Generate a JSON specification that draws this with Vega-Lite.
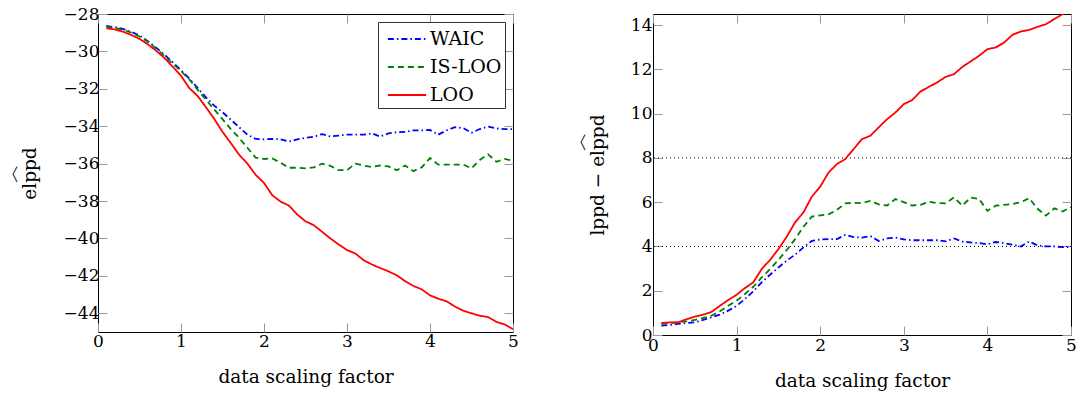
{
  "$schema": "https://vega.github.io/schema/vega-lite/v6.json",
  "padding": {"left": 1, "right": 5, "top": 4, "bottom": 2},
  "spacing": 50,
  "resolve": {"scale": {"color": "independent", "strokeDash": "independent"}},
  "datasets": {
    "left": [
      {"x":0.1,"WAIC":-28.64,"IS-LOO":-28.68,"LOO":-28.76},
      {"x":0.2,"WAIC":-28.7,"IS-LOO":-28.74,"LOO":-28.82},
      {"x":0.3,"WAIC":-28.8,"IS-LOO":-28.84,"LOO":-28.94},
      {"x":0.4,"WAIC":-28.95,"IS-LOO":-29.0,"LOO":-29.12},
      {"x":0.5,"WAIC":-29.15,"IS-LOO":-29.2,"LOO":-29.33},
      {"x":0.6,"WAIC":-29.45,"IS-LOO":-29.48,"LOO":-29.62},
      {"x":0.7,"WAIC":-29.8,"IS-LOO":-29.85,"LOO":-29.96},
      {"x":0.8,"WAIC":-30.17,"IS-LOO":-30.24,"LOO":-30.35},
      {"x":0.9,"WAIC":-30.58,"IS-LOO":-30.65,"LOO":-30.82},
      {"x":1.0,"WAIC":-31.0,"IS-LOO":-31.05,"LOO":-31.3},
      {"x":1.1,"WAIC":-31.45,"IS-LOO":-31.5,"LOO":-31.96},
      {"x":1.2,"WAIC":-31.95,"IS-LOO":-32.05,"LOO":-32.38},
      {"x":1.3,"WAIC":-32.45,"IS-LOO":-32.58,"LOO":-32.98},
      {"x":1.4,"WAIC":-32.9,"IS-LOO":-33.1,"LOO":-33.6},
      {"x":1.5,"WAIC":-33.25,"IS-LOO":-33.62,"LOO":-34.3},
      {"x":1.6,"WAIC":-33.65,"IS-LOO":-34.15,"LOO":-34.9},
      {"x":1.7,"WAIC":-34.05,"IS-LOO":-34.62,"LOO":-35.52},
      {"x":1.8,"WAIC":-34.45,"IS-LOO":-35.15,"LOO":-36.0},
      {"x":1.9,"WAIC":-34.68,"IS-LOO":-35.68,"LOO":-36.6},
      {"x":2.0,"WAIC":-34.7,"IS-LOO":-35.75,"LOO":-37.03},
      {"x":2.1,"WAIC":-34.68,"IS-LOO":-35.72,"LOO":-37.69},
      {"x":2.2,"WAIC":-34.7,"IS-LOO":-35.95,"LOO":-38.03},
      {"x":2.3,"WAIC":-34.82,"IS-LOO":-36.22,"LOO":-38.24},
      {"x":2.4,"WAIC":-34.7,"IS-LOO":-36.22,"LOO":-38.72},
      {"x":2.5,"WAIC":-34.62,"IS-LOO":-36.25,"LOO":-39.08},
      {"x":2.6,"WAIC":-34.56,"IS-LOO":-36.2,"LOO":-39.29},
      {"x":2.7,"WAIC":-34.42,"IS-LOO":-36.0,"LOO":-39.64},
      {"x":2.8,"WAIC":-34.55,"IS-LOO":-36.12,"LOO":-40.0},
      {"x":2.9,"WAIC":-34.5,"IS-LOO":-36.35,"LOO":-40.32},
      {"x":3.0,"WAIC":-34.45,"IS-LOO":-36.35,"LOO":-40.62},
      {"x":3.1,"WAIC":-34.45,"IS-LOO":-36.0,"LOO":-40.8},
      {"x":3.2,"WAIC":-34.45,"IS-LOO":-36.1,"LOO":-41.16},
      {"x":3.3,"WAIC":-34.38,"IS-LOO":-36.18,"LOO":-41.39},
      {"x":3.4,"WAIC":-34.55,"IS-LOO":-36.1,"LOO":-41.58},
      {"x":3.5,"WAIC":-34.38,"IS-LOO":-36.15,"LOO":-41.76},
      {"x":3.6,"WAIC":-34.32,"IS-LOO":-36.35,"LOO":-41.97},
      {"x":3.7,"WAIC":-34.3,"IS-LOO":-36.1,"LOO":-42.28},
      {"x":3.8,"WAIC":-34.22,"IS-LOO":-36.4,"LOO":-42.54},
      {"x":3.9,"WAIC":-34.22,"IS-LOO":-36.2,"LOO":-42.72},
      {"x":4.0,"WAIC":-34.2,"IS-LOO":-35.7,"LOO":-43.04},
      {"x":4.1,"WAIC":-34.45,"IS-LOO":-36.05,"LOO":-43.22},
      {"x":4.2,"WAIC":-34.22,"IS-LOO":-36.05,"LOO":-43.36},
      {"x":4.3,"WAIC":-34.05,"IS-LOO":-36.05,"LOO":-43.64},
      {"x":4.4,"WAIC":-34.1,"IS-LOO":-36.05,"LOO":-43.86},
      {"x":4.5,"WAIC":-34.35,"IS-LOO":-36.25,"LOO":-44.0},
      {"x":4.6,"WAIC":-34.15,"IS-LOO":-35.8,"LOO":-44.13},
      {"x":4.7,"WAIC":-34.02,"IS-LOO":-35.5,"LOO":-44.2},
      {"x":4.8,"WAIC":-34.12,"IS-LOO":-35.9,"LOO":-44.46},
      {"x":4.9,"WAIC":-34.15,"IS-LOO":-35.75,"LOO":-44.6},
      {"x":5.0,"WAIC":-34.15,"IS-LOO":-35.85,"LOO":-44.85}
    ],
    "right": [
      {"x":0.1,"WAIC":0.42,"IS-LOO":0.5,"LOO":0.54},
      {"x":0.2,"WAIC":0.45,"IS-LOO":0.53,"LOO":0.57},
      {"x":0.3,"WAIC":0.5,"IS-LOO":0.57,"LOO":0.57},
      {"x":0.4,"WAIC":0.54,"IS-LOO":0.62,"LOO":0.71},
      {"x":0.5,"WAIC":0.57,"IS-LOO":0.68,"LOO":0.83},
      {"x":0.6,"WAIC":0.68,"IS-LOO":0.77,"LOO":0.92},
      {"x":0.7,"WAIC":0.8,"IS-LOO":0.87,"LOO":1.04},
      {"x":0.8,"WAIC":0.92,"IS-LOO":1.07,"LOO":1.32},
      {"x":0.9,"WAIC":1.1,"IS-LOO":1.32,"LOO":1.58},
      {"x":1.0,"WAIC":1.32,"IS-LOO":1.55,"LOO":1.82},
      {"x":1.1,"WAIC":1.63,"IS-LOO":1.85,"LOO":2.12},
      {"x":1.2,"WAIC":1.97,"IS-LOO":2.18,"LOO":2.38},
      {"x":1.3,"WAIC":2.38,"IS-LOO":2.6,"LOO":2.98},
      {"x":1.4,"WAIC":2.72,"IS-LOO":2.98,"LOO":3.39},
      {"x":1.5,"WAIC":3.05,"IS-LOO":3.39,"LOO":3.88},
      {"x":1.6,"WAIC":3.36,"IS-LOO":3.84,"LOO":4.44},
      {"x":1.7,"WAIC":3.63,"IS-LOO":4.33,"LOO":5.09},
      {"x":1.8,"WAIC":3.96,"IS-LOO":4.89,"LOO":5.54},
      {"x":1.9,"WAIC":4.25,"IS-LOO":5.35,"LOO":6.25},
      {"x":2.0,"WAIC":4.32,"IS-LOO":5.4,"LOO":6.7},
      {"x":2.1,"WAIC":4.33,"IS-LOO":5.45,"LOO":7.34},
      {"x":2.2,"WAIC":4.33,"IS-LOO":5.65,"LOO":7.72},
      {"x":2.3,"WAIC":4.52,"IS-LOO":5.95,"LOO":7.95},
      {"x":2.4,"WAIC":4.42,"IS-LOO":5.97,"LOO":8.4},
      {"x":2.5,"WAIC":4.4,"IS-LOO":5.96,"LOO":8.85},
      {"x":2.6,"WAIC":4.47,"IS-LOO":6.06,"LOO":9.0},
      {"x":2.7,"WAIC":4.25,"IS-LOO":5.9,"LOO":9.38},
      {"x":2.8,"WAIC":4.36,"IS-LOO":5.85,"LOO":9.75},
      {"x":2.9,"WAIC":4.4,"IS-LOO":6.14,"LOO":10.05},
      {"x":3.0,"WAIC":4.32,"IS-LOO":6.0,"LOO":10.43},
      {"x":3.1,"WAIC":4.28,"IS-LOO":5.85,"LOO":10.61},
      {"x":3.2,"WAIC":4.28,"IS-LOO":5.88,"LOO":11.0},
      {"x":3.3,"WAIC":4.28,"IS-LOO":6.02,"LOO":11.21},
      {"x":3.4,"WAIC":4.28,"IS-LOO":5.96,"LOO":11.41},
      {"x":3.5,"WAIC":4.23,"IS-LOO":5.95,"LOO":11.66},
      {"x":3.6,"WAIC":4.36,"IS-LOO":6.21,"LOO":11.78},
      {"x":3.7,"WAIC":4.22,"IS-LOO":5.84,"LOO":12.11},
      {"x":3.8,"WAIC":4.18,"IS-LOO":6.21,"LOO":12.36},
      {"x":3.9,"WAIC":4.15,"IS-LOO":6.15,"LOO":12.61},
      {"x":4.0,"WAIC":4.1,"IS-LOO":5.61,"LOO":12.91},
      {"x":4.1,"WAIC":4.2,"IS-LOO":5.84,"LOO":12.99},
      {"x":4.2,"WAIC":4.15,"IS-LOO":5.88,"LOO":13.21},
      {"x":4.3,"WAIC":4.08,"IS-LOO":5.92,"LOO":13.56},
      {"x":4.4,"WAIC":4.0,"IS-LOO":6.0,"LOO":13.71},
      {"x":4.5,"WAIC":4.22,"IS-LOO":6.18,"LOO":13.78},
      {"x":4.6,"WAIC":4.05,"IS-LOO":5.7,"LOO":13.92},
      {"x":4.7,"WAIC":4.0,"IS-LOO":5.39,"LOO":14.04},
      {"x":4.8,"WAIC":4.0,"IS-LOO":5.72,"LOO":14.27},
      {"x":4.9,"WAIC":3.97,"IS-LOO":5.58,"LOO":14.49},
      {"x":5.0,"WAIC":3.97,"IS-LOO":5.78,"LOO":14.7}
    ],
    "refs": [{"ref": 4}, {"ref": 8}]
  },
  "hconcat": [
    {
      "width": 415,
      "height": 318,
      "resolve": {"axis": {"x": "independent", "y": "independent"}},
      "layer": [
        {
          "data": {"name": "left"},
          "transform": [{"fold": ["WAIC", "IS-LOO", "LOO"], "as": ["series", "v"]}],
          "mark": {"type": "line", "strokeWidth": 1.8, "clip": true},
          "encoding": {
            "x": {"field": "x", "type": "quantitative", "scale": {"domain": [0, 5], "nice": false},
                  "axis": {"orient": "bottom", "title": "data scaling factor", "values": [0, 1, 2, 3, 4, 5]}},
            "y": {"field": "v", "type": "quantitative", "scale": {"domain": [-45, -28], "nice": false, "zero": false},
                  "axis": {"orient": "left", "title": ["︿", "elppd"], "values": [-44, -42, -40, -38, -36, -34, -32, -30, -28]}},
            "color": {"field": "series", "type": "nominal",
                      "scale": {"domain": ["WAIC", "IS-LOO", "LOO"], "range": ["#0000ff", "#008000", "#ff0000"]},
                      "legend": {"title": null}},
            "strokeDash": {"field": "series", "type": "nominal",
                      "scale": {"domain": ["WAIC", "IS-LOO", "LOO"], "range": [[6, 3, 1.5, 3], [6, 4], [1, 0]]},
                      "legend": {"title": null}}
          }
        },
        {
          "data": {"name": "left"},
          "transform": [{"fold": ["WAIC", "IS-LOO", "LOO"], "as": ["series", "v"]}],
          "mark": {"type": "point", "opacity": 0, "clip": true},
          "encoding": {
            "x": {"field": "x", "type": "quantitative", "scale": {"domain": [0, 5], "nice": false},
                  "axis": {"orient": "top", "title": null, "labels": false, "values": [0, 1, 2, 3, 4, 5]}},
            "y": {"field": "v", "type": "quantitative", "scale": {"domain": [-45, -28], "nice": false, "zero": false},
                  "axis": {"orient": "right", "title": null, "labels": false, "values": [-44, -42, -40, -38, -36, -34, -32, -30, -28]}}
          }
        }
      ]
    },
    {
      "width": 418,
      "height": 321,
      "resolve": {"axis": {"x": "independent", "y": "independent"}},
      "layer": [
        {
          "data": {"name": "refs"},
          "mark": {"type": "rule", "color": "#000", "strokeWidth": 1, "strokeDash": [1, 3]},
          "encoding": {
            "y": {"field": "ref", "type": "quantitative", "scale": {"domain": [0, 14.5], "nice": false}, "axis": null}
          }
        },
        {
          "data": {"name": "right"},
          "transform": [{"fold": ["WAIC", "IS-LOO", "LOO"], "as": ["series", "v"]}],
          "mark": {"type": "line", "strokeWidth": 1.8, "clip": true},
          "encoding": {
            "x": {"field": "x", "type": "quantitative", "scale": {"domain": [0, 5], "nice": false},
                  "axis": {"orient": "bottom", "title": "data scaling factor", "values": [0, 1, 2, 3, 4, 5], "labelPadding": 11}},
            "y": {"field": "v", "type": "quantitative", "scale": {"domain": [0, 14.5], "nice": false},
                  "axis": {"orient": "left", "title": ["⠀⠀⠀⠀⠀︿", "lppd − elppd"], "values": [0, 2, 4, 6, 8, 10, 12, 14], "labelPadding": 10, "titlePadding": 23}},
            "color": {"field": "series", "type": "nominal",
                      "scale": {"domain": ["WAIC", "IS-LOO", "LOO"], "range": ["#0000ff", "#008000", "#ff0000"]},
                      "legend": null},
            "strokeDash": {"field": "series", "type": "nominal",
                      "scale": {"domain": ["WAIC", "IS-LOO", "LOO"], "range": [[6, 3, 1.5, 3], [6, 4], [1, 0]]},
                      "legend": null}
          }
        },
        {
          "data": {"name": "right"},
          "transform": [{"fold": ["WAIC", "IS-LOO", "LOO"], "as": ["series", "v"]}],
          "mark": {"type": "point", "opacity": 0, "clip": true},
          "encoding": {
            "x": {"field": "x", "type": "quantitative", "scale": {"domain": [0, 5], "nice": false},
                  "axis": {"orient": "top", "title": null, "labels": false, "values": [0, 1, 2, 3, 4, 5]}},
            "y": {"field": "v", "type": "quantitative", "scale": {"domain": [0, 14.5], "nice": false},
                  "axis": {"orient": "right", "title": null, "labels": false, "values": [0, 2, 4, 6, 8, 10, 12, 14]}}
          }
        }
      ]
    }
  ],
  "config": {
    "view": {"stroke": "#000", "strokeWidth": 1},
    "font": "DejaVu Serif",
    "axis": {
      "domain": false, "grid": false, "tickColor": "#999", "tickSize": -9, "tickWidth": 1,
      "labelFont": "DejaVu Serif", "labelFontSize": 17, "labelColor": "#000",
      "titleFont": "DejaVu Serif", "titleFontSize": 18.5, "titleFontWeight": "normal", "titleColor": "#000",
      "labelPadding": 8, "labelFlush": false, "labelOverlap": false, "titleLineHeight": 18
    },
    "axisX": {"titlePadding": 18, "labelPadding": 10},
    "axisY": {"titlePadding": 24},
    "legend": {
      "orient": "top-right", "offset": 8, "padding": 3, "strokeColor": "#333", "fillColor": "#fff",
      "symbolType": "M-1.5,0H1.5", "symbolSize": 650, "symbolStrokeWidth": 1.8, "symbolOffset": 12,
      "labelFont": "DejaVu Serif", "labelFontSize": 19, "labelColor": "#000",
      "rowPadding": 4, "labelOffset": 9, "cornerRadius": 0
    }
  }
}
